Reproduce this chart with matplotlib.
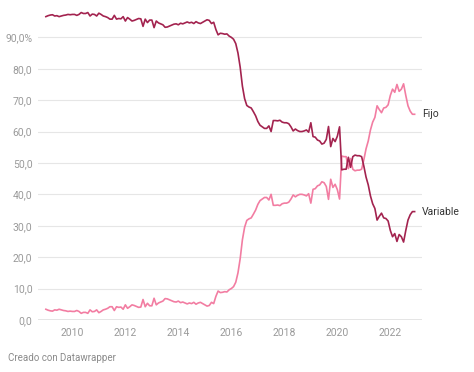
import numpy as np
import matplotlib
matplotlib.use("Agg")
import matplotlib.pyplot as plt

plt.rcParams["font.family"] = ["Roboto", "DejaVu Sans"]

# mensual, ene 2009 - dic 2022 (% de hipotecas nuevas)
variable = [
    96.6, 96.9, 97.1, 97.2, 96.8, 96.9, 96.6, 96.8, 97.0, 97.1, 97.3, 97.2,  # 2009
    97.3, 97.3, 97.0, 97.3, 97.9, 97.6, 97.6, 97.9, 96.8, 97.4, 97.3, 96.8,  # 2010
    97.7, 97.3, 96.8, 96.6, 96.3, 95.8, 95.8, 97.0, 95.8, 96.0, 95.9, 96.6,  # 2011
    95.2, 96.3, 95.8, 95.2, 95.4, 95.7, 96.0, 95.9, 93.5, 95.8, 94.7, 95.5,  # 2012
    95.5, 93.1, 95.2, 94.6, 94.3, 94.0, 93.2, 93.3, 93.6, 93.9, 94.2, 94.3,  # 2013
    94.0, 94.5, 94.3, 94.6, 94.9, 94.6, 94.8, 94.4, 95.0, 94.6, 94.4, 94.8,  # 2014
    95.2, 95.6, 95.4, 94.4, 94.8, 92.5, 90.8, 91.3, 91.2, 91.0, 91.1, 90.4,  # 2015
    90.0, 89.4, 88.0, 85.0, 80.5, 74.5, 70.5, 68.3, 67.8, 67.5, 66.3, 65.0,  # 2016
    63.2, 62.0, 61.5, 61.0, 61.0, 61.8, 60.0, 63.5, 63.5, 63.4, 63.6, 63.0,  # 2017
    62.8, 62.8, 62.5, 61.5, 60.2, 60.8, 60.3, 60.0, 60.0, 60.2, 60.5, 59.8,  # 2018
    62.8, 58.4, 58.2, 57.3, 57.0, 56.0, 56.3, 57.5, 61.6, 55.2, 57.8, 56.8,  # 2019
    58.5, 61.5, 47.8, 48.0, 48.0, 51.8, 48.6, 52.0, 52.5, 52.3, 52.3, 52.0,  # 2020
    49.0, 45.5, 43.0, 39.5, 37.0, 35.5, 31.8, 33.0, 34.0, 32.5, 32.3, 31.5,  # 2021
    28.5, 26.5, 27.5, 25.0, 27.2, 26.5, 24.8, 28.5, 31.8, 33.5, 34.5, 34.5,  # 2022
]
fijo = [
    3.4, 3.1, 2.9, 2.8, 3.2, 3.1, 3.4, 3.2, 3.0, 2.9, 2.7, 2.8,
    2.7, 2.7, 3.0, 2.7, 2.1, 2.4, 2.4, 2.1, 3.2, 2.6, 2.7, 3.2,
    2.3, 2.7, 3.2, 3.4, 3.7, 4.2, 4.2, 3.0, 4.2, 4.0, 4.1, 3.4,
    4.8, 3.7, 4.2, 4.8, 4.6, 4.3, 4.0, 4.1, 6.5, 4.2, 5.3, 4.5,
    4.5, 6.9, 4.8, 5.4, 5.7, 6.0, 6.8, 6.7, 6.4, 6.1, 5.8, 5.7,
    6.0, 5.5, 5.7, 5.4, 5.1, 5.4, 5.2, 5.6, 5.0, 5.4, 5.6, 5.2,
    4.8, 4.4, 4.6, 5.6, 5.2, 7.5, 9.2, 8.7, 8.8, 9.0, 8.9, 9.6,
    10.0, 10.6, 12.0, 15.0, 19.5, 25.5, 29.5, 31.7, 32.2, 32.5, 33.7, 35.0,
    36.8, 38.0, 38.5, 39.0, 39.0, 38.2, 40.0, 36.5, 36.5, 36.6, 36.4, 37.0,
    37.2, 37.2, 37.5, 38.5, 39.8, 39.2, 39.7, 40.0, 40.0, 39.8, 39.5, 40.2,
    37.2, 41.6, 41.8, 42.7, 43.0, 44.0, 43.7, 42.5, 38.4, 44.8, 42.2, 43.2,
    41.5, 38.5, 52.2, 52.0, 52.0, 48.2, 51.4, 48.0, 47.5, 47.7, 47.7, 48.0,
    51.0, 54.5, 57.0, 60.5, 63.0, 64.5, 68.2, 67.0, 66.0, 67.5, 67.7, 68.5,
    71.5, 73.5, 72.5, 75.0, 72.8, 73.5, 75.2, 71.5, 68.2, 66.5, 65.5, 65.5,
]
start_year = 2009
year_ticks = [2010, 2012, 2014, 2016, 2018, 2020, 2022]
y_ticks = [0, 10, 20, 30, 40, 50, 60, 70, 80, 90]
y_labels = ["0,0", "10,0", "20,0", "30,0", "40,0", "50,0", "60,0", "70,0", "80,0", "90,0%"]

C_VAR = "#a3234f"
C_FIJO = "#f27da2"
GREY = "#9a9a9a"

t = start_year + np.arange(len(variable)) / 12

fig = plt.figure(figsize=(4.74, 3.72), dpi=100)
ax = fig.add_axes([0.080, 0.140, 0.810, 0.844])

for v in y_ticks[1:]:
    ax.axhline(v, color="#e6e6e6", lw=0.8, zorder=0)
ax.axhline(0, color="#333333", lw=0.9, zorder=3)

ax.plot(t, fijo, color=C_FIJO, lw=1.2, zorder=2)
ax.plot(t, variable, color=C_VAR, lw=1.2, zorder=2)

ax.text(t[-1] + 0.28, fijo[-1], "Fijo", color="#333333", fontsize=7.5, va="center", ha="left")
ax.text(t[-1] + 0.28, variable[-1], "Variable", color="#333333", fontsize=7.5, va="center", ha="left")

ax.set_xlim(2008.70, 2023.19)
ax.set_ylim(0, 100)
ax.set_xticks(year_ticks)
ax.set_xticklabels([str(y) for y in year_ticks])
ax.set_yticks(y_ticks)
ax.set_yticklabels(y_labels)
ax.tick_params(axis="both", length=0, labelsize=7.5, colors=GREY)
ax.tick_params(axis="y", pad=4)
ax.tick_params(axis="x", pad=6)
for s in ax.spines.values():
    s.set_visible(False)

fig.text(8 / 474, 1 - 358 / 372, "Creado con Datawrapper", color="#8a8a8a", fontsize=7, va="center", ha="left")

fig.savefig("out.png", dpi=100)
